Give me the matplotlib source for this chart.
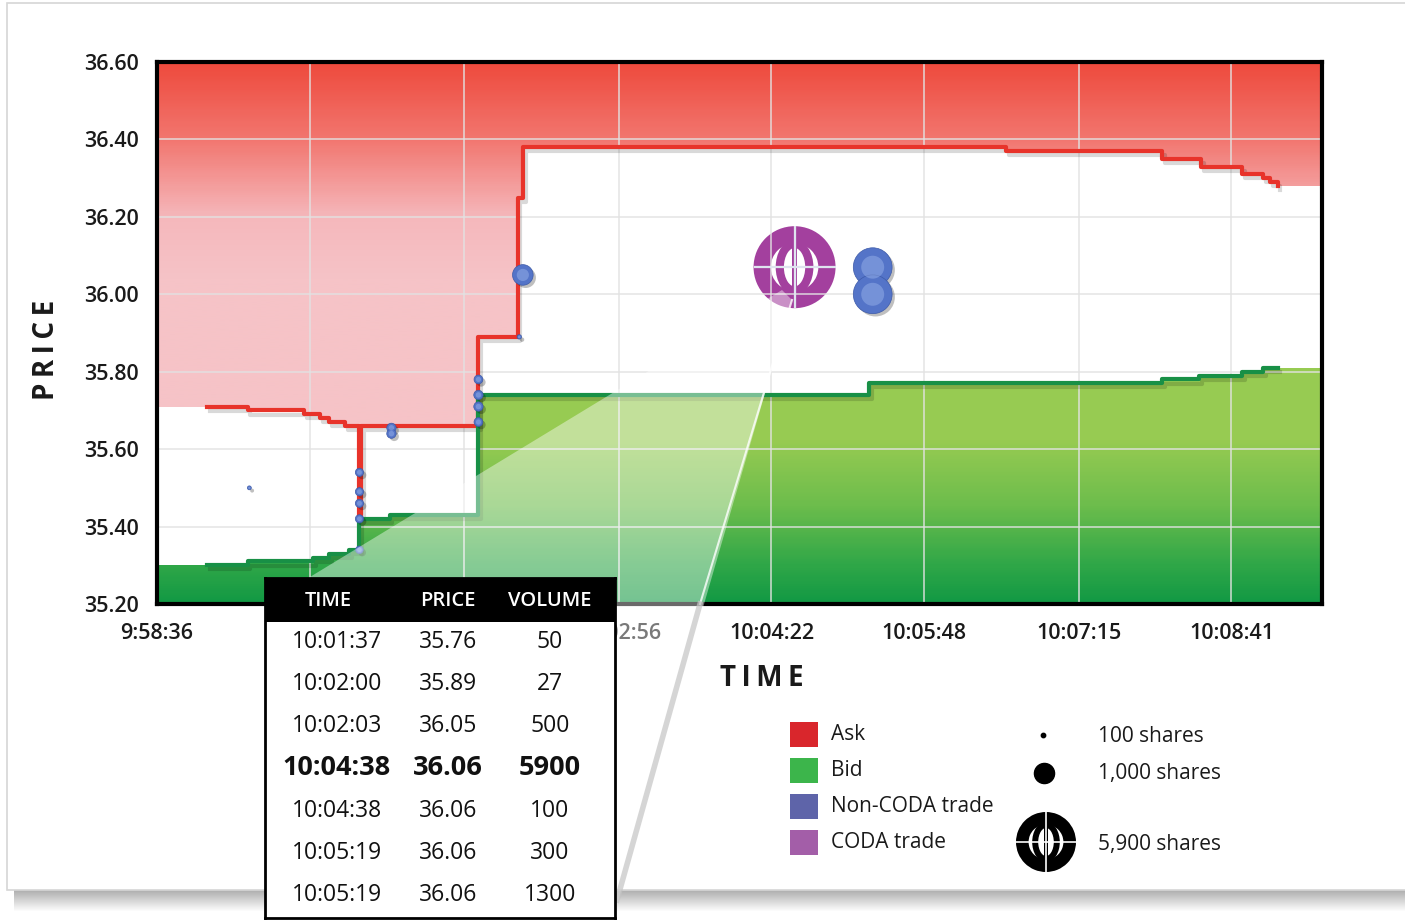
import numpy as np
import matplotlib
matplotlib.use("Agg")
import matplotlib.pyplot as plt
import matplotlib.patheffects as pe
from matplotlib.colors import LinearSegmentedColormap
from matplotlib.patches import Rectangle, Wedge, Ellipse, Polygon
from matplotlib.transforms import ScaledTranslation

plt.rcParams["font.family"] = ["Open Sans", "DejaVu Sans"]

W, H = 1405, 921

# подписи оси времени
tick_labels = ["9:58:36", "10:00:02", "10:01:29", "10:02:56",
               "10:04:22", "10:05:48", "10:07:15", "10:08:41"]
hidden_ticks = [1, 2]  # закрыты таблицей
price_ticks = [35.20, 35.40, 35.60, 35.80, 36.00, 36.20, 36.40, 36.60]

# котировки (секунды от 9:58:36, цена)
ask_t = [28, 51, 83, 92, 97, 106, 114, 115, 181, 203, 206, 478, 566, 588, 611, 623, 627, 631]
ask_p = [35.71, 35.70, 35.69, 35.68, 35.67, 35.66, 35.43, 35.66, 35.89, 36.25, 36.38,
         36.37, 36.35, 36.33, 36.31, 36.30, 36.29, 36.28]
bid_t = [28, 51, 88, 97, 108, 114, 131, 181, 401, 566, 587, 611, 623, 631]
bid_p = [35.30, 35.31, 35.32, 35.33, 35.34, 35.42, 35.43, 35.74, 35.77, 35.78, 35.79,
         35.80, 35.81, 35.81]

# сделки вне CODA
trade_t = [52, 114, 114, 114, 114, 114, 132, 132, 181, 181, 181, 181, 204, 206, 403, 403]
trade_p = [35.50, 35.54, 35.49, 35.46, 35.42, 35.34, 35.655, 35.64, 35.78, 35.74, 35.71,
           35.67, 35.89, 36.05, 36.07, 36.00]
trade_s = [8, 35, 35, 35, 35, 30, 45, 45, 40, 45, 45, 40, 10, 220, 780, 780]

# сделка CODA
coda_t, coda_p = 359, 36.07

# таблица сделок
tbl_time = ["10:01:37", "10:02:00", "10:02:03", "10:04:38", "10:04:38", "10:05:19", "10:05:19"]
tbl_price = ["35.76", "35.89", "36.05", "36.06", "36.06", "36.06", "36.06"]
tbl_volume = ["50", "27", "500", "5900", "100", "300", "1300"]
tbl_bold = 3

legend_labels = ["Ask", "Bid", "Non-CODA trade", "CODA trade"]
legend_colors = ["#d9262c", "#3cb54b", "#5e64a9", "#a35ea8"]
size_labels = ["100 shares", "1,000 shares", "5,900 shares"]


def to_sec(label):
    h, m, s = map(int, label.split(":"))
    return h * 3600 + m * 60 + s


t0 = to_sec(tick_labels[0])
x_ticks = [to_sec(l) - t0 for l in tick_labels]
x_max = 656
y_min, y_max = 35.2, 36.6


def draw_coda(ax, x, y, r, color, gap):
    """Значок сделки CODA: кольцо с эллипсом и перекрестием"""
    tr = ax.figure.dpi_scale_trans + ScaledTranslation(x, y, ax.transData)
    parts = [
        Wedge((0, 0), r, 0, 360, width=0.42 * r, facecolor=color, edgecolor="none"),
        Ellipse((0, 0), 0.72 * r, 1.14 * r, facecolor="none", edgecolor=color,
                lw=r * 0.2 * 72),
        Rectangle((-0.06 * r, -0.6 * r), 0.12 * r, 1.2 * r, facecolor=color,
                  edgecolor="none"),
    ]
    for p in parts:
        p.set_transform(tr)
        p.set_clip_on(False)
        ax.add_patch(p)
    ax.plot([-r, r], [0, 0], color=gap, lw=0.055 * r * 72, transform=tr,
            solid_capstyle="butt", clip_on=False)
    ax.plot([0, 0], [-r, r], color=gap, lw=0.055 * r * 72, transform=tr,
            solid_capstyle="butt", clip_on=False)


fig = plt.figure(figsize=(W / 100, H / 100), dpi=100, facecolor="white")

# фон-карточка с тенью
bg = fig.add_axes([0, 0, 1, 1], zorder=-5)
bg.set_xlim(0, W)
bg.set_ylim(H, 0)
bg.axis("off")
shadow = np.zeros((24, 1, 4))
shadow[..., :3] = 0.45
shadow[:, 0, 3] = np.linspace(0.6, 0.0, 24)
bg.imshow(shadow, extent=[14, W, 912, 889], aspect="auto", origin="upper")
bg.add_patch(Rectangle((7, 3), W + 20, 887, facecolor="white", edgecolor="#d6d6d6", lw=1.2))

# основной график
ax = fig.add_axes([157 / W, 1 - 604 / H, (1322 - 157) / W, (604 - 62) / H])
ax.set_xlim(0, x_max)
ax.set_ylim(y_min, y_max)
ax.set_autoscale_on(False)

grad = np.linspace(0, 1, 300).reshape(-1, 1)
red_cmap = LinearSegmentedColormap.from_list(
    "ask", [(0, "#f6c3c7"), (0.6, "#f6c3c7"), (0.714, "#f5b8bc"),
            (0.857, "#f27770"), (1, "#ee4a3d")])
green_cmap = LinearSegmentedColormap.from_list(
    "bid", [(0, "#129944"), (0.07, "#30a748"), (0.18, "#6dbd4c"),
            (0.3, "#97cb52"), (1, "#9ccd53")])

ask_ft = [0] + ask_t + [x_max]
ask_fp = [ask_p[0]] + ask_p + [ask_p[-1]]
bid_ft = [0] + bid_t + [x_max]
bid_fp = [bid_p[0]] + bid_p + [bid_p[-1]]

red_poly = ax.fill_between(ask_ft, ask_fp, y_max, step="post", facecolor="none", lw=0)
green_poly = ax.fill_between(bid_ft, bid_fp, y_min, step="post", facecolor="none", lw=0)
for poly, cmap in [(red_poly, red_cmap), (green_poly, green_cmap)]:
    im = ax.imshow(grad, extent=[0, x_max, y_min, y_max], origin="lower",
                   aspect="auto", cmap=cmap, zorder=1)
    im.set_clip_path(poly.get_paths()[0], transform=ax.transData)

ax.set_axisbelow("line")
ax.grid(True, color="#e2e2e2", lw=1.2, alpha=0.85)

shadow_fx = [pe.SimpleLineShadow(offset=(2, -3), shadow_color="k", alpha=0.15), pe.Normal()]
ax.step(ask_t, ask_p, where="post", color="#e8332a", lw=3.0, zorder=3, path_effects=shadow_fx)
ax.step(bid_t, bid_p, where="post", color="#189046", lw=3.0, zorder=3, path_effects=shadow_fx)

ax.scatter(trade_t, trade_p, s=trade_s, color="#5474c8", edgecolors="#3d5aa8", lw=0.5,
           zorder=4, path_effects=[pe.SimplePatchShadow(offset=(2, -2), shadow_rgbFace="k",
                                                         alpha=0.25), pe.Normal()])
ax.scatter(trade_t, trade_p, s=np.array(trade_s) * 0.35, color="#a8c0f2", alpha=0.4,
           lw=0, zorder=4)

draw_coda(ax, coda_t, coda_p, 0.41, "#a3409e", "#dfe4ef")

ax.set_xticks(x_ticks, labels=tick_labels)
ax.set_yticks(price_ticks, labels=[f"{p:.2f}" for p in price_ticks])
ax.tick_params(length=0, labelsize=15.5, colors="#1a1a1a")
ax.tick_params(axis="y", pad=13)
ax.tick_params(axis="x", pad=14)
x_lbls = ax.get_xticklabels()
for lbl in x_lbls + ax.get_yticklabels():
    lbl.set_fontweight("semibold")
for i in hidden_ticks:
    x_lbls[i].set_visible(False)
for sp in ax.spines.values():
    sp.set_linewidth(3)
    sp.set_color("black")

fig.text(47 / W, 1 - 350 / H, "P\u2009R\u2009I\u2009C\u2009E", rotation=90, ha="center",
         va="center", fontsize=20, fontweight="bold", color="#1a1a1a")
fig.text(762 / W, 1 - 678 / H, "T\u2009I\u2009M\u2009E", ha="center", va="center",
         fontsize=20, fontweight="bold", color="#1a1a1a")

# подсветка-луч и легенда
ov = fig.add_axes([0, 0, 1, 1], zorder=5)
ov.set_xlim(0, W)
ov.set_ylim(H, 0)
ov.axis("off")
ov.add_patch(Polygon([(782, 290), (792, 300), (617, 905), (265, 905), (265, 600), (305, 580)],
                     closed=True, facecolor="white", edgecolor="none", alpha=0.42))
ov.plot([792, 700], [300, 604], color="white", lw=1.5, alpha=0.8)
ov.plot([700, 617], [604, 900], color="#c4c4c4", lw=4, alpha=0.7)

legend_y = [734, 770, 806, 842]
for y, lab, col in zip(legend_y, legend_labels, legend_colors):
    ov.add_patch(Rectangle((790, y - 12.5), 28, 25, facecolor=col, edgecolor="none"))
    ov.text(831, y, lab, va="center", ha="left", fontsize=15, color="#1a1a1a")

ov.scatter([1043], [735], s=10, color="black")
ov.scatter([1044], [773], s=210, color="black")
draw_coda(ov, 1046, 842, 0.30, "black", "white")
for y, lab in zip([736, 773, 844], size_labels):
    ov.text(1098, y, lab, va="center", ha="left", fontsize=15, color="#1a1a1a")

# таблица сделок
tb = fig.add_axes([265 / W, 1 - 918 / H, 350 / W, 340 / H], zorder=10)
tb.set_xlim(0, 350)
tb.set_ylim(340, 0)
tb.set_xticks([])
tb.set_yticks([])
tb.set_facecolor("white")
for sp in tb.spines.values():
    sp.set_linewidth(2)
    sp.set_color("black")
tb.add_patch(Rectangle((0, 0), 350, 44, facecolor="black", edgecolor="none"))
for x, head in zip([63, 183, 285], ["TIME", "PRICE", "VOLUME"]):
    tb.text(x, 23, head, ha="center", va="center", color="white", fontsize=14.5,
            fontweight="semibold")
row_y = [64, 106, 148, 190, 233, 275, 317]
for i, (y, t, p, v) in enumerate(zip(row_y, tbl_time, tbl_price, tbl_volume)):
    bold = i == tbl_bold
    for x, s in zip([72, 183, 285], [t, p, v]):
        tb.text(x, y, s, ha="center", va="center", color="#111111",
                fontsize=19.5 if bold else 16.5, fontweight="bold" if bold else "normal")

fig.savefig("out.png", dpi=100, facecolor="white")
